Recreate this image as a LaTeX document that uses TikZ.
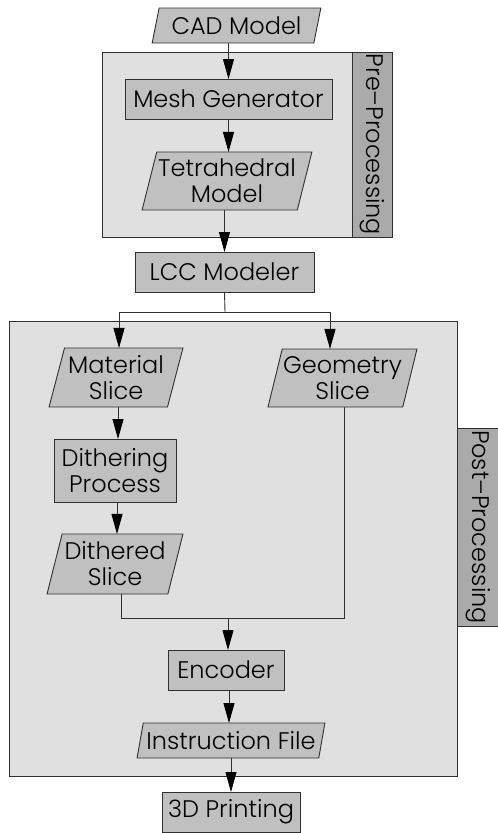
\documentclass[tikz,border=0pt]{standalone}
\usepackage{fontspec}
\setmainfont{Poppins}[UprightFont=* Light]
\usetikzlibrary{shapes.geometric,arrows.meta}
\definecolor{boxfill}{HTML}{C0C0C0}
\definecolor{grpfill}{HTML}{E0E0E0}
\definecolor{stripfill}{HTML}{AAAAAA}
\definecolor{linec}{HTML}{303030}
\begin{document}
\begin{tikzpicture}[x=1pt,y=-1pt,
  font=\fontsize{24}{26}\selectfont,
  every node/.style={inner sep=0pt, outer sep=0pt},
  procbox/.style n args={2}{rectangle, draw=linec, fill=boxfill, line width=0.9pt,
     minimum width=#1pt, minimum height=#2pt, align=center},
  databox/.style n args={2}{trapezium, trapezium left angle=72, trapezium right angle=108,
     trapezium stretches=true, draw=linec, fill=boxfill, line width=0.9pt,
     minimum width=#1pt, minimum height=#2pt, align=center},
  groupbox/.style n args={2}{rectangle, draw=linec, fill=grpfill, line width=0.9pt,
     minimum width=#1pt, minimum height=#2pt},
  stripbox/.style n args={2}{rectangle, draw=linec, fill=stripfill, line width=0.9pt,
     rotate=-90, minimum width=#1pt, minimum height=#2pt},
  conn/.style={draw=linec, line width=0.9pt},
  arr/.style={conn, -{Triangle[length=20pt,width=11pt,color=black]}}
]
\useasboundingbox (0,0) rectangle (498,833);
% groups
\node[groupbox={290}{185}] (pre) at (247,144.5) {};
\node[stripbox={185}{40}] (prelabel) at (372,144.5) {Pre–Processing};
\node[groupbox={448}{455}] (post) at (233,548.5) {};
\node[stripbox={198}{42}] (postlabel) at (478,527) {Post–Processing};
% nodes
\node[databox={169}{35}] (cad) at (236.5,25.5) {CAD Model};
\node[procbox={207}{40}] (mesh) at (228.5,99) {Mesh Generator};
\node[databox={170}{58}] (tet) at (227,181) {Tetrahedral\\Model};
\node[procbox={179}{40}] (lcc) at (224.5,272) {LCC Modeler};
\node[databox={134}{59}] (mat) at (116,377.5) {Material\\Slice};
\node[databox={149}{58}] (geo) at (342.5,378) {Geometry\\Slice};
\node[procbox={122}{63}] (dth) at (115,470.5) {Dithering\\Process};
\node[databox={136}{60}] (dit) at (115,564) {Dithered\\Slice};
\node[procbox={116}{40}] (enc) at (226,670) {Encoder};
\node[databox={188}{35}] (ins) at (231,740.5) {Instruction File};
\node[procbox={138}{40}] (prt) at (231,812) {3D Printing};
% connectors
\coordinate (split) at (225,312);
\coordinate (merge) at (228,618);
\draw[arr] (cad.south -| mesh.north) -- (mesh.north);
\draw[arr] (mesh.south) -- (mesh.south |- tet.north);
\draw[arr] (tet.south -| lcc.north) -- (lcc.north);
\draw[conn] (lcc.south) -- (split);
\draw[arr] (split) -| ([xshift=3pt]mat.north);
\draw[arr] (split) -| ([xshift=-12.5pt]geo.north);
\draw[arr] ([xshift=2pt]mat.south) -- ([xshift=2pt]mat.south |- dth.north);
\draw[arr] ([xshift=2pt]dth.south) -- ([xshift=2pt]dth.south |- dit.north);
\draw[conn] ([xshift=6pt]dit.south) |- (merge);
\draw[conn] ([xshift=1.5pt]geo.south) |- (merge);
\draw[arr] (merge) -- (merge |- enc.north);
\draw[arr] ([xshift=3pt]enc.south) -- ([xshift=3pt]enc.south |- ins.north);
\draw[arr] (ins.south -| prt.north) -- (prt.north);
\end{tikzpicture}
\end{document}
